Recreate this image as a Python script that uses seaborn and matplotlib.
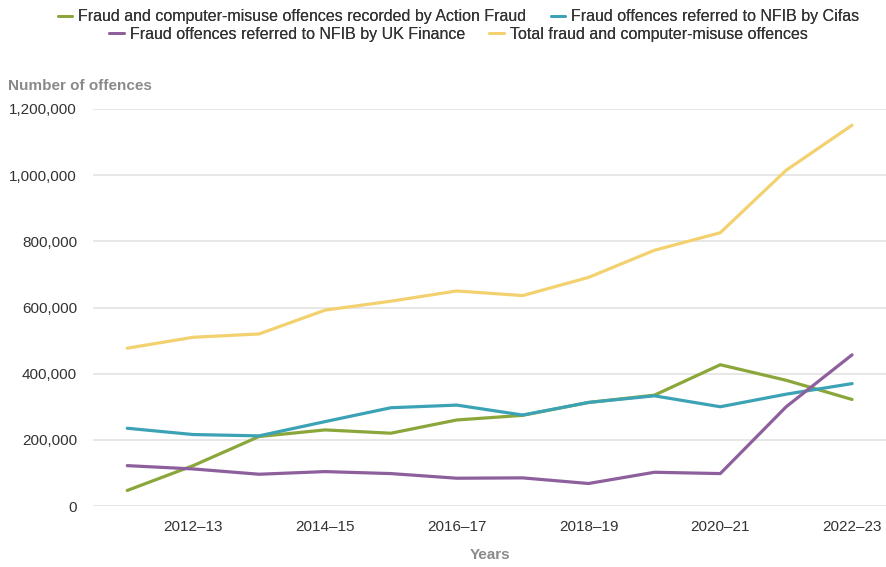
import matplotlib
matplotlib.use("Agg")
import matplotlib.pyplot as plt
import seaborn as sns
import pandas as pd
from matplotlib.lines import Line2D
from matplotlib.ticker import FuncFormatter

years = ["2011–12", "2012–13", "2013–14", "2014–15", "2015–16", "2016–17",
         "2017–18", "2018–19", "2019–20", "2020–21", "2021–22", "2022–23"]
action_fraud = [47000, 122000, 210000, 230000, 220000, 260000,
                274000, 313000, 335000, 427000, 380000, 322000]
cifas = [235000, 216000, 212000, 255000, 297000, 305000,
         275000, 313000, 333000, 300000, 338000, 370000]
uk_finance = [122000, 112000, 96000, 104000, 98000, 84000,
              85000, 68000, 102000, 98000, 300000, 457000]
total = [477000, 510000, 520000, 592000, 619000, 650000,
         636000, 691000, 773000, 826000, 1015000, 1151000]

series_names = ["Fraud and computer-misuse offences recorded by Action Fraud",
                "Fraud offences referred to NFIB by Cifas",
                "Fraud offences referred to NFIB by UK Finance",
                "Total fraud and computer-misuse offences"]
colors = ["#8BA63A", "#3BA3B5", "#8D5F9D", "#F3D16F"]
tick_years = ["2012–13", "2014–15", "2016–17", "2018–19", "2020–21", "2022–23"]

rows = []
for name, vals in zip(series_names, [action_fraud, cifas, uk_finance, total]):
    for i, (y, v) in enumerate(zip(years, vals)):
        rows.append({"idx": i, "year": y, "series": name, "value": v})
df = pd.DataFrame(rows)

sns.set_style("white")
plt.rcParams['font.family'] = ['Liberation Sans', 'DejaVu Sans']

fig = plt.figure(figsize=(8.87, 5.67), dpi=100)
ax = fig.add_axes([93/887, 1-506/567, 1-93/887, (506-109)/567])

sns.lineplot(data=df, x="idx", y="value", hue="series", hue_order=series_names,
             palette=colors, linewidth=2.3, ax=ax, legend=False)

ax.set_xlim(-0.52, 11.53)
ax.set_ylim(0, 1200000)
ax.set_yticks([0, 200000, 400000, 600000, 800000, 1000000, 1200000])
ax.yaxis.set_major_formatter(FuncFormatter(lambda v, p: f"{int(v):,}"))
ax.set_xticks([years.index(t) for t in tick_years])
ax.set_xticklabels(tick_years)
ax.grid(axis="y", color="#e3e3e3", linewidth=1.2)
ax.set_axisbelow(True)
for s in ax.spines.values():
    s.set_visible(False)
ax.tick_params(axis="both", length=0, labelsize=11, colors="#333333")
ax.tick_params(axis="y", pad=11.5)
ax.tick_params(axis="x", pad=10)
ax.set_xlabel("")
ax.set_ylabel("")

fig.text(8/887, 1-86/567, "Number of offences", fontsize=11, fontweight="bold",
         color="#8a8a8a", ha="left", va="center")
fig.text(490/887, 1-555/567, "Years", fontsize=11, fontweight="bold",
         color="#8a8a8a", ha="center", va="center")

def make_handles(idxs):
    return [Line2D([0], [0], color=colors[i], lw=2) for i in idxs], [series_names[i] for i in idxs]

for idxs, ypos in [([0, 1], 1-17/567), ([2, 3], 1-34/567)]:
    h, l = make_handles(idxs)
    leg = fig.legend(h, l, loc="center", bbox_to_anchor=(0.517, ypos), ncol=2,
                     frameon=False, fontsize=11.5, handlelength=0.9, handletextpad=0.4,
                     columnspacing=1.5, borderpad=0, labelcolor="#333333")
    fig.add_artist(leg)

fig.savefig("out.png", dpi=100)
